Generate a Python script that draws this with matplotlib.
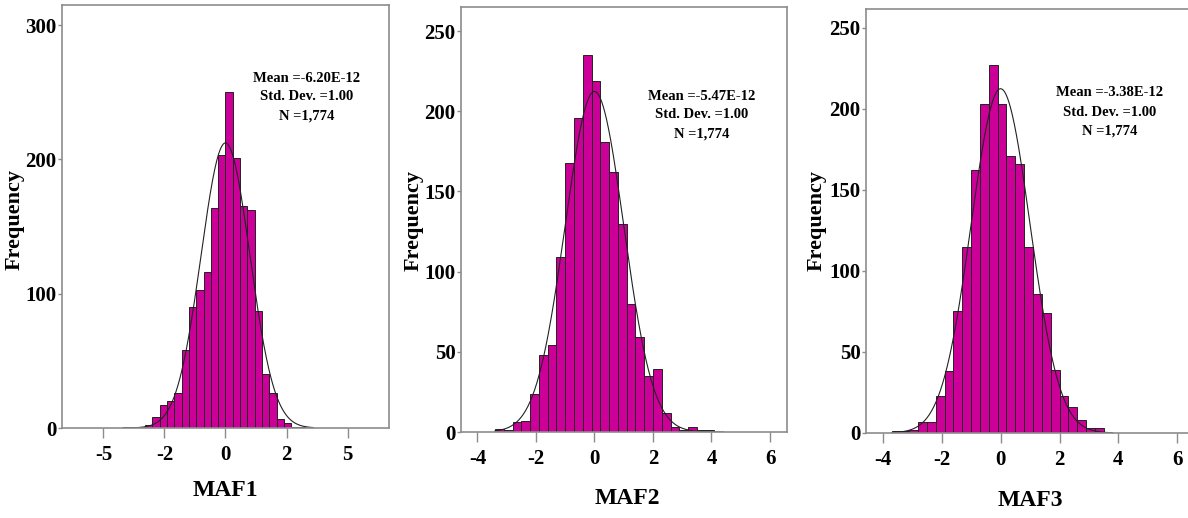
import matplotlib
matplotlib.use("Agg")
import matplotlib.pyplot as plt
import numpy as np

plt.rcParams['font.family'] = ['Liberation Serif', 'DejaVu Serif']
plt.rcParams['font.weight'] = 'bold'

# bin width and first bin edge per panel, counts
width = 0.3
maf1_start = -4.2
maf1_counts = [1, 1, 1, 2, 8, 17, 20, 26, 58, 90, 103, 116, 164, 203, 250,
               201, 165, 162, 87, 40, 26, 7, 4, 1, 1]
maf2_start = -3.4
maf2_counts = [2, 1, 6, 7, 24, 48, 54, 109, 168, 196, 235, 219, 181, 162,
               130, 80, 59, 35, 39, 12, 3, 1, 3, 1, 1]
maf3_start = -3.7
maf3_counts = [1, 1, 2, 7, 7, 23, 38, 75, 115, 162, 203, 227, 203, 171, 166,
               115, 86, 74, 39, 23, 16, 8, 3, 3]

names = ["MAF1", "MAF2", "MAF3"]
means = ["-6.20E-12", "-5.47E-12", "-3.38E-12"]
std = 1.00
n_obs = 1774

x1_ticks = [-5, -2.5, 0, 2.5, 5]
x1_labels = ["-5", "-2", "0", "2", "5"]
x23_ticks = [-4, -2, 0, 2, 4, 6]
x23_labels = ["-4", "-2", "0", "2", "4", "6"]
y1_ticks = [0, 100, 200, 300]
y23_ticks = [0, 50, 100, 150, 200, 250]

bar_color = "#cc0099"
frame_color = "#8c8c8c"

fig = plt.figure(figsize=(11.88, 5.18), dpi=100)

W, H = 1188, 518
def px_axes(left, top, right, bottom):
    return fig.add_axes([left / W, 1 - bottom / H, (right - left) / W, (bottom - top) / H])

panels = [
    dict(box=(62, 5, 389, 428), start=maf1_start, counts=maf1_counts,
         xlim=(-6.7, 6.7), ylim=(0, 315), xt=x1_ticks, xl=x1_labels, yt=y1_ticks,
         text=(307, 97), ylab=(15, 220), xlab=(225, 490)),
    dict(box=(461, 7, 787, 432), start=maf2_start, counts=maf2_counts,
         xlim=(-4.56, 6.58), ylim=(0, 265), xt=x23_ticks, xl=x23_labels, yt=y23_ticks,
         text=(702, 115), ylab=(414, 221), xlab=(627, 498)),
    dict(box=(866, 9, 1195, 433), start=maf3_start, counts=maf3_counts,
         xlim=(-4.57, 6.6), ylim=(0, 261.5), xt=x23_ticks, xl=x23_labels, yt=y23_ticks,
         text=(1110, 112), ylab=(817, 221), xlab=(1030, 500)),
]

for i, p in enumerate(panels):
    ax = px_axes(*p["box"])
    counts = np.array(p["counts"])
    edges = p["start"] + width * np.arange(len(counts))
    ax.bar(edges, counts, width=width, align="edge", color=bar_color,
           edgecolor="#222222", linewidth=0.7)

    # fitted normal curve from stated mean / sd / N
    xs = np.linspace(edges[0], edges[-1] + width + 0.3, 300)
    ys = n_obs * width * np.exp(-0.5 * (xs / std) ** 2) / (std * np.sqrt(2 * np.pi))
    ax.plot(xs, ys, color="#222222", linewidth=0.8)

    ax.set_xlim(*p["xlim"])
    ax.set_ylim(*p["ylim"])
    ax.set_xticks(p["xt"])
    ax.set_xticklabels(p["xl"])
    ax.set_yticks(p["yt"])
    for s in ax.spines.values():
        s.set_color(frame_color)
        s.set_linewidth(1.2)
    ax.tick_params(axis="x", length=7, width=1, color=frame_color, pad=5, labelsize=15)
    ax.tick_params(axis="y", length=3, width=1, color=frame_color, pad=1, labelsize=15)

    tx, ty = p["text"]
    fig.text(tx / W, 1 - ty / H,
             "Mean =%s\nStd. Dev. =1.00\nN =1,774" % means[i],
             ha="center", va="center", fontsize=10.5, fontweight="bold",
             linespacing=1.6)
    lx, ly = p["ylab"]
    fig.text(lx / W, 1 - ly / H, "Frequency", rotation=90, ha="center", va="center",
             fontsize=16, fontweight="bold")
    mx, my = p["xlab"]
    fig.text(mx / W, 1 - my / H, names[i], ha="center", va="center",
             fontsize=17, fontweight="bold")

fig.savefig("out.png", dpi=100)
